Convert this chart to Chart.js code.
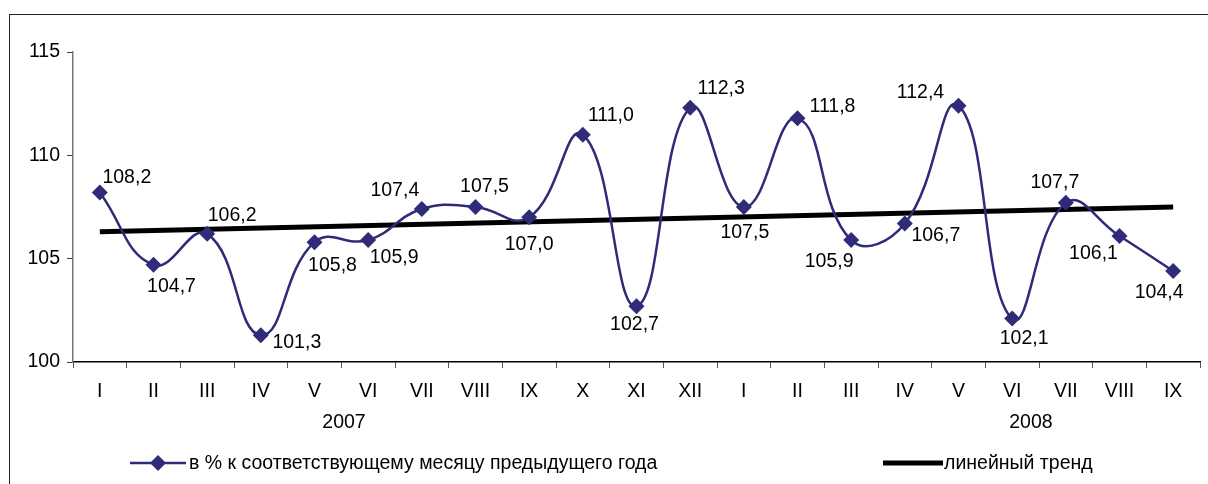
<!DOCTYPE html>
<html>
<head>
<meta charset="utf-8">
<script src="https://cdn.jsdelivr.net/npm/chart.js@4.4.0/dist/chart.umd.min.js"></script>
<style>
  html, body { margin: 0; padding: 0; background: #fff; }
  #wrap { position: relative; width: 1208px; height: 484px; overflow: hidden; }
  #frame { position: absolute; left: 9px; top: 14px; width: 1220px; height: 500px; border: 1.5px solid #222; }
  canvas { position: absolute; left: 0; top: 0; }
</style>
</head>
<body>
<div id="wrap">
  <div id="frame"></div>
  <canvas id="chart" width="1208" height="484"></canvas>
</div>
<script>
// months, 2007 I..XII then 2008 I..IX
const months = ['I', 'II', 'III', 'IV', 'V', 'VI', 'VII', 'VIII', 'IX', 'X', 'XI', 'XII',
                'I', 'II', 'III', 'IV', 'V', 'VI', 'VII', 'VIII', 'IX'];
const years = ['2007', '2008'];
const percentValues = [108.2, 104.7, 106.2, 101.3, 105.8, 105.9, 107.4, 107.5, 107.0, 111.0, 102.7, 112.3,
                       107.5, 111.8, 105.9, 106.7, 112.4, 102.1, 107.7, 106.1, 104.4];
const trendStart = 106.3;
const trendEnd = 107.5;
const yTicks = [100, 105, 110, 115];

const seriesName = 'в % к соответствующему месяцу предыдущего года';
const trendName = 'линейный тренд';

// where each value label sits relative to its point (dx, dy of text centre)
const labelOffsets = [
  [27, -15], [18, 22], [25, -18], [36, 7], [18, 23], [26, 18], [-27, -18],
  [9, -20], [0, 27], [28, -19], [-2, 18], [31, -19], [1, 26], [35, -12],
  [-22, 22], [31, 12], [-38, -13], [12, 20], [-11, -20], [-26, 18], [-14, 22]
];
const yearCenters = [4.55, 17.35]; // index positions on the category axis

const lineColor = '#2F2B78';
const FONT = '"Liberation Sans", Arial, sans-serif';
const FS = 19.5;

const trendData = months.map((m, i) => i === 0 ? trendStart : (i === months.length - 1 ? trendEnd : null));

const extras = {
  id: 'extras',
  afterDatasetsDraw(chart) {
    const ctx = chart.ctx;
    const meta = chart.getDatasetMeta(0);
    ctx.save();
    ctx.fillStyle = '#000';
    ctx.font = FS + 'px ' + FONT;
    ctx.textAlign = 'center';
    ctx.textBaseline = 'middle';
    meta.data.forEach((pt, i) => {
      const off = labelOffsets[i] || [0, -20];
      ctx.fillText(percentValues[i].toFixed(1).replace('.', ','), pt.x + off[0], pt.y + off[1]);
    });
    ctx.restore();
  },
  afterDraw(chart) {
    const ctx = chart.ctx;
    const x = chart.scales.x;
    ctx.save();
    ctx.fillStyle = '#000';
    ctx.font = FS + 'px ' + FONT;
    ctx.textAlign = 'center';
    ctx.textBaseline = 'middle';
    years.forEach((y, i) => {
      ctx.fillText(y, x.getPixelForValue(yearCenters[i]), 423);
    });

    // legend
    const ly = 463;
    ctx.strokeStyle = lineColor;
    ctx.lineWidth = 2.5;
    ctx.beginPath();
    ctx.moveTo(130, ly);
    ctx.lineTo(186, ly);
    ctx.stroke();
    ctx.fillStyle = lineColor;
    ctx.beginPath();
    ctx.moveTo(158, ly - 8);
    ctx.lineTo(166, ly);
    ctx.lineTo(158, ly + 8);
    ctx.lineTo(150, ly);
    ctx.closePath();
    ctx.fill();
    ctx.fillStyle = '#000';
    ctx.textAlign = 'left';
    ctx.fillText(seriesName, 189, ly + 1);

    ctx.strokeStyle = '#000';
    ctx.lineWidth = 5;
    ctx.beginPath();
    ctx.moveTo(883, ly);
    ctx.lineTo(943, ly);
    ctx.stroke();
    ctx.fillText(trendName, 944, ly + 1);
    ctx.restore();
  }
};

new Chart(document.getElementById('chart'), {
  type: 'line',
  data: {
    labels: months,
    datasets: [
      {
        label: seriesName,
        data: percentValues,
        borderColor: lineColor,
        backgroundColor: lineColor,
        borderWidth: 2.5,
        tension: 0.45,
        pointStyle: 'rectRot',
        pointRadius: 8,
        pointHoverRadius: 8,
        pointBorderWidth: 0,
        order: 1
      },
      {
        label: trendName,
        data: trendData,
        spanGaps: true,
        borderColor: '#000',
        borderWidth: 5,
        pointRadius: 0,
        tension: 0,
        order: 2
      }
    ]
  },
  options: {
    responsive: false,
    animation: false,
    layout: { padding: { left: 0, top: 52, right: 5, bottom: 0 } },
    plugins: {
      legend: { display: false },
      tooltip: { enabled: false }
    },
    scales: {
      x: {
        offset: true,
        afterFit: s => { s.height = 122; },
        grid: {
          offset: true,
          drawOnChartArea: false,
          drawTicks: true,
          tickLength: 6,
          color: '#000',
          tickColor: '#555'
        },
        border: { color: '#000', width: 1.5 },
        ticks: {
          padding: 12,
          color: '#000',
          maxRotation: 0,
          autoSkip: false,
          font: { family: FONT, size: FS }
        }
      },
      y: {
        min: 100,
        max: 115,
        afterFit: s => { s.width = 73; },
        afterBuildTicks: s => { s.ticks = yTicks.map(v => ({ value: v })); },
        grid: {
          drawOnChartArea: false,
          drawTicks: true,
          tickLength: 6,
          tickColor: '#444'
        },
        border: { color: '#777', width: 1.5 },
        ticks: {
          padding: 7,
          color: '#000',
          font: { family: FONT, size: FS }
        }
      }
    }
  },
  plugins: [extras]
});
</script>
</body>
</html>
